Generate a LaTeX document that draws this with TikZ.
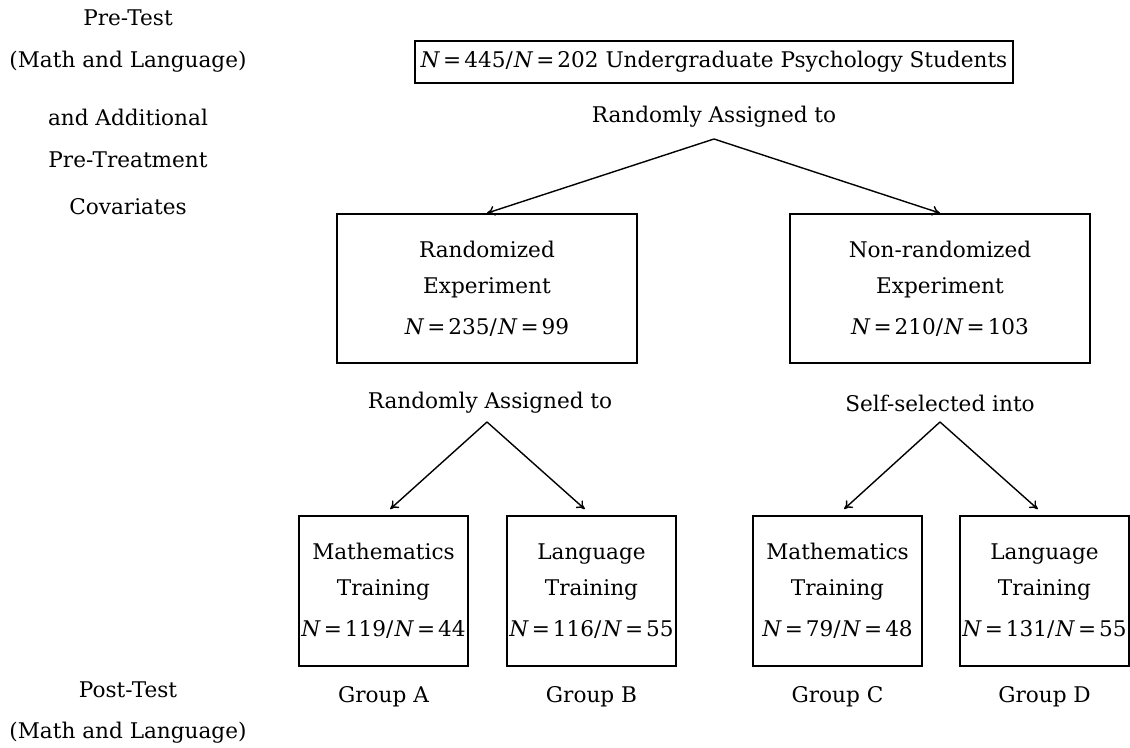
\documentclass[tikz,border=0pt]{standalone}
\usepackage{fontspec}
\setmainfont{DejaVu Serif}
\usetikzlibrary{arrows.meta}
\newcommand{\nn}[2]{\textit{N}\kern1.5pt=\kern1.5pt#1/\kern0.5pt\textit{N}\kern1.5pt=\kern1.5pt#2}
\begin{document}
\begin{tikzpicture}[x=0.5pt,y=-0.5pt,
  every node/.style={font=\fontsize{10.8}{18}\selectfont},
  box/.style={draw, line width=0.9pt, align=center, inner sep=0pt},
  lbl/.style={inner sep=0pt, align=center},
  arr/.style={-{To[length=4pt,width=5pt]}, line width=0.7pt}]
\useasboundingbox (0,0) rectangle (1130,748);
% left labels
\node[lbl] (pre1) at (128,18) {Pre-Test};
\node[lbl] (pre2) at (128,62) {(Math and Language)};
\node[lbl] (pre3) at (128,117) {and Additional};
\node[lbl] (pre4) at (128,160) {Pre-Treatment};
\node[lbl] (pre5) at (128,207) {Covariates};
\node[lbl] (post1) at (128,690) {Post-Test};
\node[lbl] (post2) at (128,733) {(Math and Language)};
% top
\node[box, minimum width=299pt, minimum height=21pt] (top) at (714,62) {\nn{445}{202} Undergraduate Psychology Students};
\node[lbl] (ra1) at (714,117) {Randomly Assigned to};
\coordinate (apex1) at (714,139);
\node[box, minimum width=150pt, minimum height=74.5pt] (rand) at (487,288.5) {Randomized\\Experiment\\[2.5pt]\nn{235}{99}};
\node[box, minimum width=150pt, minimum height=74.5pt] (nonrand) at (940,288.5) {Non-randomized\\Experiment\\[2.5pt]\nn{210}{103}};
\draw[arr] (apex1) -- (rand.north);
\draw[arr] (apex1) -- (nonrand.north);
% second level
\node[lbl] (ra2) at (490,403) {Randomly Assigned to};
\coordinate (apex2) at (487,422);
\node[lbl] (ss) at (940,403) {Self-selected into};
\coordinate (apex3) at (940,422);
\node[box, minimum width=84.5pt, minimum height=75pt] (A) at (383.5,591) {Mathematics\\Training\\[2.5pt]\nn{119}{44}};
\node[box, minimum width=84.5pt, minimum height=75pt] (B) at (591.5,591) {Language\\Training\\[2.5pt]\nn{116}{55}};
\node[box, minimum width=84.5pt, minimum height=75pt] (C) at (837.5,591) {Mathematics\\Training\\[2.5pt]\nn{79}{48}};
\node[box, minimum width=84.5pt, minimum height=75pt] (D) at (1044.5,591) {Language\\Training\\[2.5pt]\nn{131}{55}};
\draw[arr, shorten >=4.5pt] (apex2) -- (A.north);
\draw[arr, shorten >=4.5pt] (apex2) -- (B.north);
\draw[arr, shorten >=4.5pt] (apex3) -- (C.north);
\draw[arr, shorten >=4.5pt] (apex3) -- (D.north);
% group labels
\node[lbl] (gA) at (383.5,697) {Group A};
\node[lbl] (gB) at (591.5,697) {Group B};
\node[lbl] (gC) at (837.5,697) {Group C};
\node[lbl] (gD) at (1044.5,697) {Group D};
\end{tikzpicture}
\end{document}
